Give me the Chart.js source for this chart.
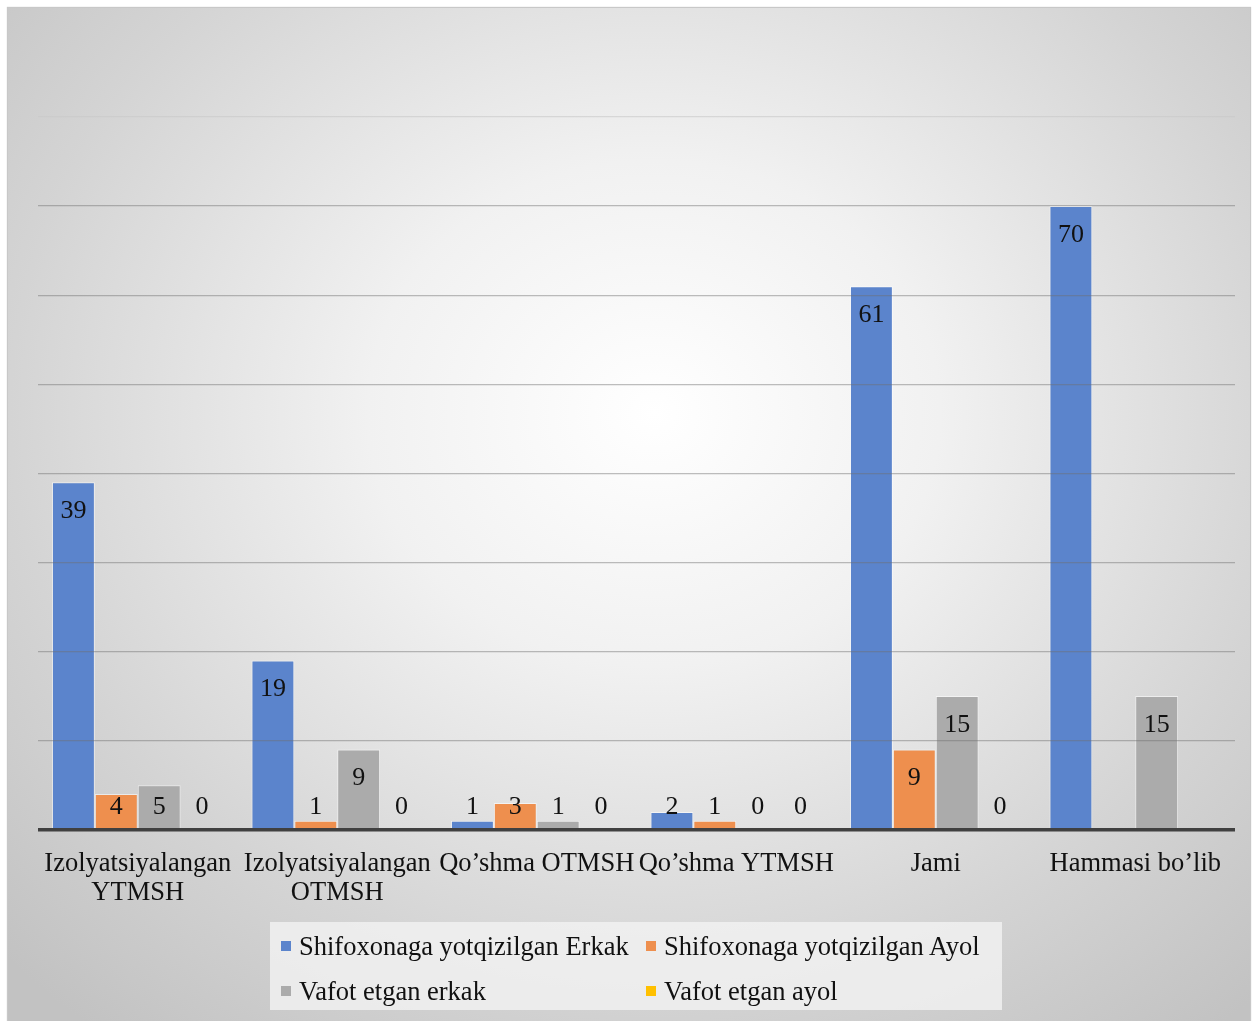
<!DOCTYPE html>
<html>
<head>
<meta charset="utf-8">
<script src="https://cdn.jsdelivr.net/npm/chart.js@4.4.1/dist/chart.umd.min.js"></script>
<style>
  html, body { margin: 0; padding: 0; background: #fff; }
  #frame {
    position: absolute; left: 8px; top: 8px; width: 1242px; height: 1013px;
    background: radial-gradient(ellipse 72% 78% at 52% 40%, #ffffff 0%, #f1f1f1 32%, #d4d4d4 72%, #c2c2c2 100%);
    box-shadow: 0 0 1px 1px #c8c8c8;
  }
  #chart { position: absolute; left: 0; top: 0; }
  #legend {
    position: absolute; left: 262px; top: 914px; width: 732px; height: 88px;
    background: rgba(242,242,242,0.8);
    font-family: "Liberation Serif", "Times New Roman", serif; font-size: 26.5px; color: #111;
  }
  .item { position: absolute; display: flex; align-items: center; white-space: nowrap; height: 30px; }
  .box { width: 10px; height: 10px; margin-right: 8px; }
</style>
</head>
<body>
<div id="frame">
  <canvas id="chart" width="1242" height="1013"></canvas>
  <div id="legend"></div>
</div>
<script>
// categories and series
const categories = [
  ['Izolyatsiyalangan', 'YTMSH'],
  ['Izolyatsiyalangan', 'OTMSH'],
  'Qo\u2019shma OTMSH',
  'Qo\u2019shma YTMSH',
  'Jami',
  'Hammasi bo\u2019lib'
];
const seriesNames = [
  'Shifoxonaga yotqizilgan Erkak',
  'Shifoxonaga yotqizilgan Ayol',
  'Vafot etgan erkak',
  'Vafot etgan ayol'
];
const hospitalMale = [39, 19, 1, 2, 61, 70];
const hospitalFemale = [4, 1, 3, 1, 9, null];
const deadMale = [5, 9, 1, 0, 15, 15];
const deadFemale = [0, 0, 0, 0, 0, null];
const colors = ['#5b84cc', '#ee8f4e', '#ababab', '#ffc000'];

const serif = '"Liberation Serif", "Times New Roman", serif';

// value labels: inside the bar top, or sitting on the baseline when bar is short
const valueLabels = {
  id: 'valueLabels',
  afterDatasetsDraw(chart) {
    const ctx = chart.ctx;
    const base = chart.scales.y.getPixelForValue(0);
    ctx.save();
    ctx.font = '26px ' + serif;
    ctx.fillStyle = '#111';
    ctx.textAlign = 'center';
    ctx.textBaseline = 'middle';
    chart.data.datasets.forEach((ds, i) => {
      const meta = chart.getDatasetMeta(i);
      meta.data.forEach((bar, j) => {
        const v = ds.data[j];
        if (v === null || v === undefined) return;
        const y = Math.min(bar.y + 29, base - 23);
        ctx.fillText(String(v), bar.x, y);
      });
    });
    ctx.restore();
  }
};

const datasets = [hospitalMale, hospitalFemale, deadMale, deadFemale].map((d, i) => ({
  label: seriesNames[i],
  data: d,
  backgroundColor: colors[i],
  borderColor: 'rgba(255,255,255,0.55)',
  borderWidth: 1,
  categoryPercentage: 0.86,
  barPercentage: 1.0
}));

const chart = new Chart(document.getElementById('chart'), {
  type: 'bar',
  data: { labels: categories, datasets: datasets },
  options: {
    responsive: false,
    animation: false,
    layout: { padding: { left: 30, right: 15, top: 109, bottom: 93 } },
    plugins: { legend: { display: false }, tooltip: { enabled: false } },
    scales: {
      x: {
        grid: { display: false, drawTicks: false },
        border: { display: false },
        ticks: {
          color: '#111',
          font: { family: serif, size: 26.5, lineHeight: 1.1 },
          padding: 20,
          maxRotation: 0,
          autoSkip: false
        }
      },
      y: {
        min: 0, max: 80,
        ticks: { display: false, stepSize: 10 },
        border: { display: false },
        grid: {
          z: 1,
          drawTicks: false,
          color: ctx => ctx.tick.value === 0 ? '#404040' : (ctx.tick.value === 80 ? 'rgba(200,200,200,0.6)' : 'rgba(110,110,110,0.45)'),
          lineWidth: ctx => ctx.tick.value === 0 ? 3.5 : 1.3
        }
      }
    }
  },
  plugins: [valueLabels]
});

// legend in a 2x2 grid, built from the chart datasets
const legend = document.getElementById('legend');
const cols = [11, 376];
const rows = [24, 69];
chart.data.datasets.forEach((ds, i) => {
  const item = document.createElement('div');
  item.className = 'item';
  item.style.left = cols[i % 2] + 'px';
  item.style.top = (rows[Math.floor(i / 2)] - 15) + 'px';
  item.innerHTML = '<span class="box" style="background:' + ds.backgroundColor + '"></span><span>' + ds.label + '</span>';
  legend.appendChild(item);
});
</script>
</body>
</html>
